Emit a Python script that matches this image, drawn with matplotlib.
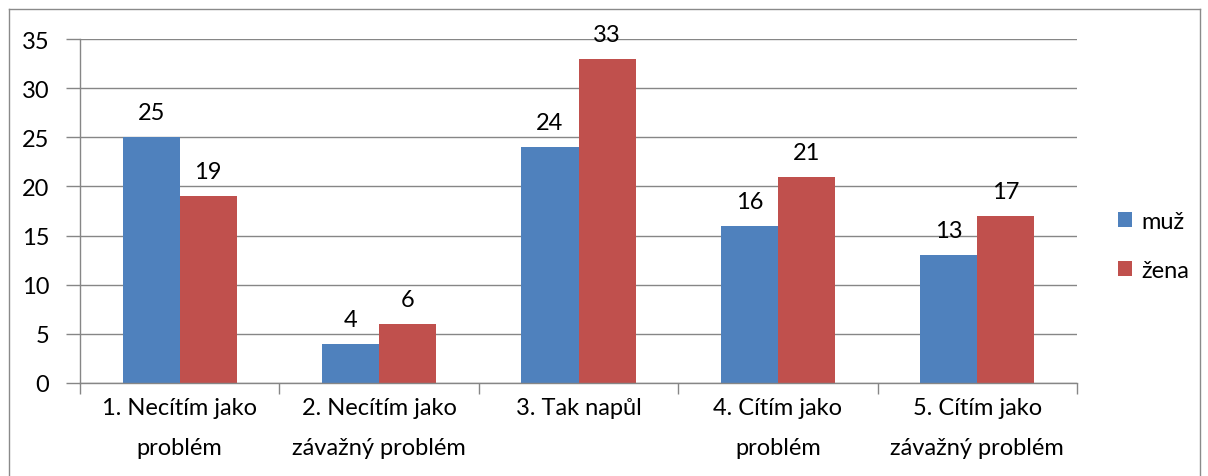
import numpy as np
import matplotlib
matplotlib.use("Agg")
import matplotlib.pyplot as plt
from matplotlib.lines import Line2D

plt.rcParams["font.family"] = ["Lato", "DejaVu Sans"]

categories = [
    "1. Necítím jako\nproblém",
    "2. Necítím jako\nzávažný problém",
    "3. Tak napůl",
    "4. Cítím jako\nproblém",
    "5. Cítím jako\nzávažný problém",
]
muz = [25, 4, 24, 16, 13]
zena = [19, 6, 33, 21, 17]
series_names = ["muž", "žena"]

BLUE = "#4F81BD"
RED = "#C0504D"
GRID = "#868686"
FS = 17

fig = plt.figure(figsize=(12.08, 4.77), dpi=100)
ax = fig.add_axes([80 / 1208, 1 - 384 / 477, (1077 - 80) / 1208, (384 - 40) / 477])

x = np.arange(len(categories))
w = 0.286
b1 = ax.bar(x - w / 2, muz, w, color=BLUE, label=series_names[0])
b2 = ax.bar(x + w / 2, zena, w, color=RED, label=series_names[1])
ax.bar_label(b1, padding=10, fontsize=FS)
ax.bar_label(b2, padding=10, fontsize=FS)

ax.set_xlim(-0.5, len(categories) - 0.5)
ax.set_ylim(0, 35)
ax.set_yticks(range(0, 36, 5))
ax.yaxis.grid(True, color=GRID, linewidth=1)
ax.set_axisbelow(True)

ax.set_xticks(x)
ax.set_xticklabels(categories, fontsize=FS, linespacing=2.1)
ax.set_xticks(np.arange(-0.5, len(categories)), minor=True)
ax.tick_params(axis="x", which="major", length=0, pad=10)
ax.tick_params(axis="x", which="minor", length=8, color=GRID, width=1)
ax.tick_params(axis="y", length=10, color=GRID, width=1, labelsize=FS, pad=12)

for s in ["top", "right"]:
    ax.spines[s].set_visible(False)
for s in ["left", "bottom"]:
    ax.spines[s].set_color(GRID)
    ax.spines[s].set_linewidth(1)

ax.legend(
    loc="center left",
    bbox_to_anchor=(1118 / 1208, 1 - 247 / 477),
    bbox_transform=fig.transFigure,
    frameon=False,
    fontsize=FS,
    borderaxespad=0,
    borderpad=0,
    handlelength=0.6,
    handleheight=0.6,
    handletextpad=0.4,
    labelspacing=1.2,
)

# outer chart border
bx0, bx1, by1 = 9 / 1208, 1200 / 1208, 1 - 10 / 477
for xs, ys in [([bx0, bx0], [0, by1]), ([bx0, bx1], [by1, by1]), ([bx1, bx1], [by1, 0])]:
    fig.add_artist(Line2D(xs, ys, transform=fig.transFigure, color="#8a8a8a", linewidth=1))

fig.savefig("out.png", dpi=100)
